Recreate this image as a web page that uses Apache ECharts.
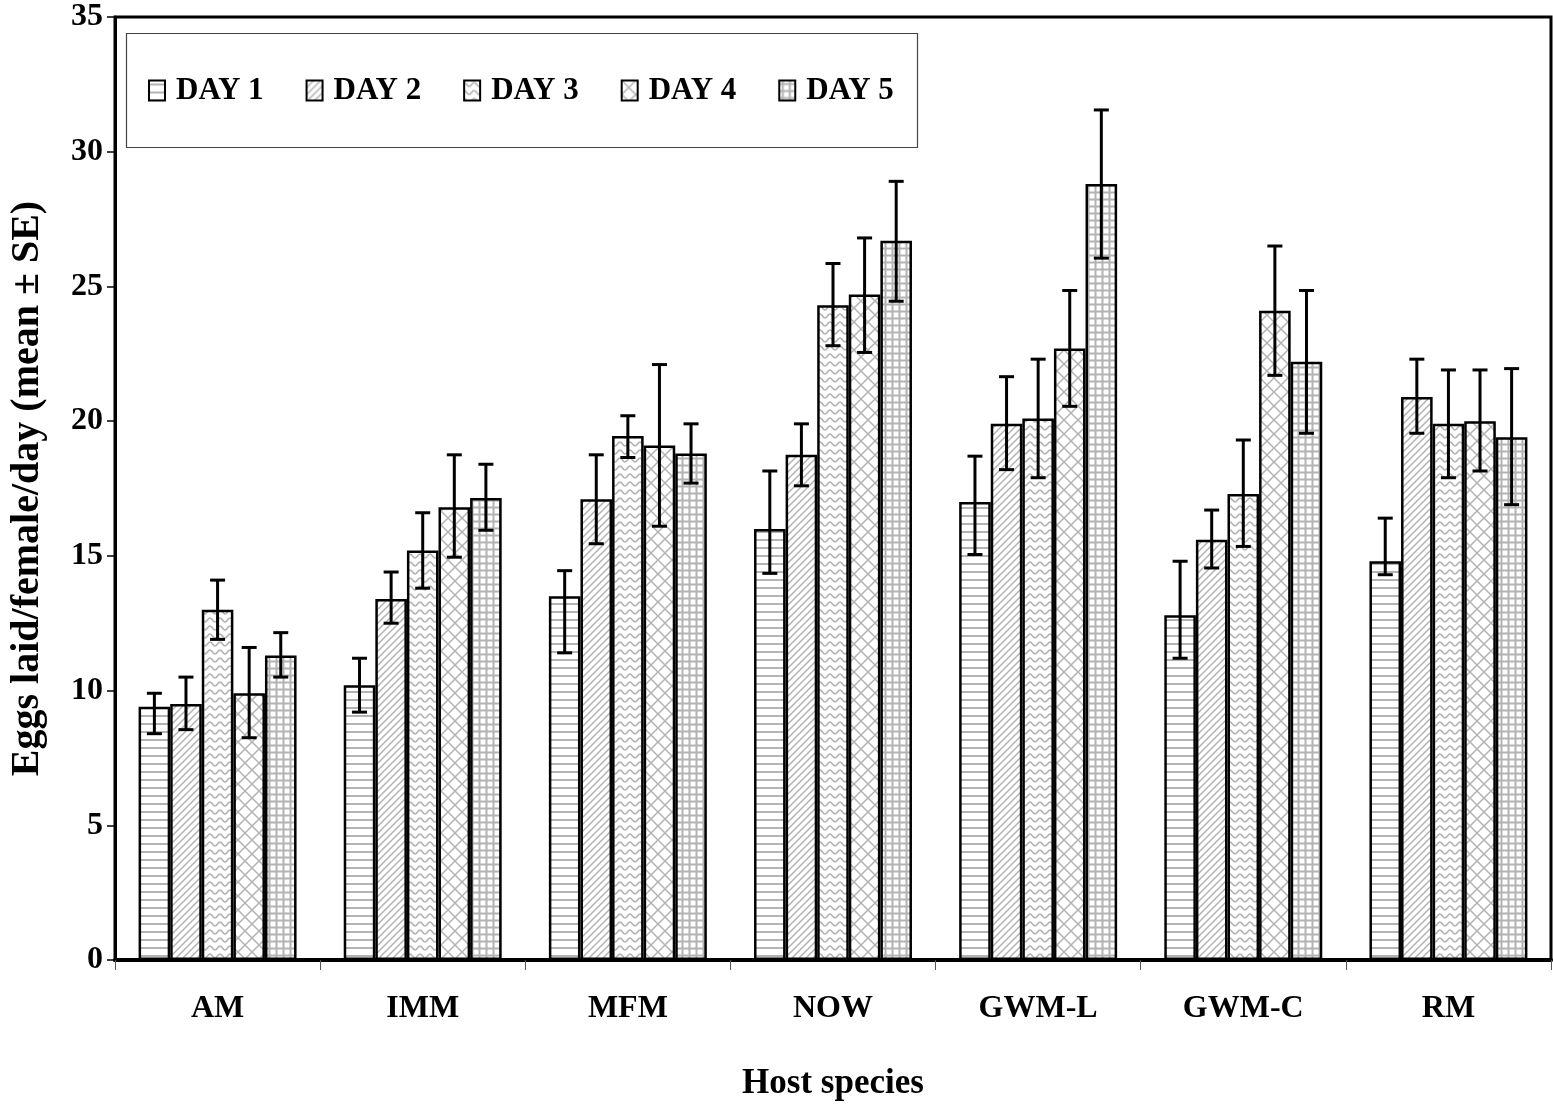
<!DOCTYPE html>
<html>
<head>
<meta charset="utf-8">
<script src="https://cdn.jsdelivr.net/npm/echarts@6/dist/echarts.min.js"></script>
<style>
html,body{margin:0;padding:0;background:#fff;}
#chart{width:1553px;height:1112px;}
</style>
</head>
<body>
<div id="chart"></div>
<script>
const categories = ['AM','IMM','MFM','NOW','GWM-L','GWM-C','RM'];
const seriesNames = ['DAY 1','DAY 2','DAY 3','DAY 4','DAY 5'];
const yTicks = [0,5,10,15,20,25,30,35];

const day1 = [9.4, 10.2, 13.5, 16.0, 17.0, 12.8, 14.8];
const day2 = [9.5, 13.4, 17.1, 18.75, 19.9, 15.6, 20.9];
const day3 = [13.0, 15.2, 19.45, 24.3, 20.1, 17.3, 19.9];
const day4 = [9.9, 16.8, 19.1, 24.7, 22.7, 24.1, 20.0];
const day5 = [11.3, 17.15, 18.8, 26.7, 28.8, 22.2, 19.4];

const day1Hi = [9.9, 11.2, 14.45, 18.15, 18.7, 14.8, 16.4];
const day1Lo = [8.4, 9.2, 11.4, 14.35, 15.05, 11.2, 14.3];
const day2Hi = [10.5, 14.4, 18.75, 19.9, 21.65, 16.7, 22.3];
const day2Lo = [8.55, 12.5, 15.45, 17.6, 18.2, 14.55, 19.55];
const day3Hi = [14.1, 16.6, 20.2, 25.85, 22.3, 19.3, 21.9];
const day3Lo = [11.9, 13.8, 18.65, 22.8, 17.9, 15.35, 17.9];
const day4Hi = [11.6, 18.75, 22.1, 26.8, 24.85, 26.5, 21.9];
const day4Lo = [8.25, 14.95, 16.1, 22.55, 20.55, 21.7, 18.15];
const day5Hi = [12.15, 18.4, 19.9, 28.9, 31.55, 24.85, 21.95];
const day5Lo = [10.5, 15.95, 17.7, 24.45, 26.05, 19.55, 16.9];

const values = [day1, day2, day3, day4, day5];
const highs = [day1Hi, day2Hi, day3Hi, day4Hi, day5Hi];
const lows = [day1Lo, day2Lo, day3Lo, day4Lo, day5Lo];

const FONT = "'Liberation Serif','Times New Roman',serif";
const PAT = '#b3b3b3';

function tile(w, h, draw) {
  const c = document.createElement('canvas');
  c.width = w; c.height = h;
  const g = c.getContext('2d');
  g.fillStyle = '#fff'; g.fillRect(0, 0, w, h);
  g.strokeStyle = PAT;
  draw(g);
  return { image: c, repeat: 'repeat' };
}
const patterns = [
  tile(8, 8, g => { g.lineWidth = 2; g.beginPath(); g.moveTo(0, 4); g.lineTo(8, 4); g.stroke(); }),
  tile(7, 7, g => { g.lineWidth = 1.5; g.beginPath();
    g.moveTo(0, 7); g.lineTo(7, 0); g.moveTo(-1, 1); g.lineTo(1, -1); g.moveTo(6, 8); g.lineTo(8, 6); g.stroke(); }),
  tile(10, 8, g => { g.lineWidth = 1.6; g.beginPath();
    g.moveTo(0, 2); g.bezierCurveTo(2, 2, 3, 6, 5, 6); g.bezierCurveTo(7, 6, 8, 2, 10, 2); g.stroke(); }),
  tile(14, 14, g => { g.lineWidth = 1.5; g.beginPath();
    g.moveTo(0, 0); g.lineTo(14, 14); g.moveTo(0, 14); g.lineTo(14, 0); g.stroke(); }),
  tile(7, 7, g => { g.lineWidth = 2; g.beginPath();
    g.moveTo(0, 3.5); g.lineTo(7, 3.5); g.moveTo(3.5, 0); g.lineTo(3.5, 7); g.stroke(); })
];

const GAP = 0.23;
const barSeries = seriesNames.map((name, i) => ({
  name: name,
  type: 'bar',
  data: values[i],
  barGap: '0%',
  barCategoryGap: (GAP * 100) + '%',
  itemStyle: { color: patterns[i], borderColor: '#000', borderWidth: 2.5 },
  emphasis: { disabled: true },
  z: 2
}));

const errSeries = seriesNames.map((name, i) => ({
  name: 'err' + (i + 1),
  type: 'custom',
  data: categories.map((c, k) => [k, lows[i][k], highs[i][k]]),
  encode: { x: 0, y: [1, 2] },
  z: 5,
  silent: true,
  renderItem: function (params, api) {
    const ci = api.value(0);
    const lo = api.coord([ci, api.value(1)]);
    const hi = api.coord([ci, api.value(2)]);
    const band = api.size([1, 0])[0];
    const grp = band * (1 - GAP);
    const bw = grp / 5;
    const x = lo[0] - grp / 2 + (i + 0.5) * bw;
    const cap = 7.5;
    const st = { stroke: '#000', lineWidth: 3 };
    return {
      type: 'group',
      children: [
        { type: 'line', shape: { x1: x, y1: lo[1], x2: x, y2: hi[1] }, style: st },
        { type: 'line', shape: { x1: x - cap, y1: lo[1], x2: x + cap, y2: lo[1] }, style: st },
        { type: 'line', shape: { x1: x - cap, y1: hi[1], x2: x + cap, y2: hi[1] }, style: st }
      ]
    };
  }
}));

const chart = echarts.init(document.getElementById('chart'), null, { renderer: 'canvas' });
chart.setOption({
  animation: false,
  backgroundColor: '#fff',
  grid: { left: 115, right: 2, top: 17, bottom: 152, show: true, borderColor: '#000', borderWidth: 3,
          backgroundColor: 'transparent', outerBoundsMode: 'none', containLabel: false },
  legend: {
    data: seriesNames,
    left: 148, top: 75, padding: 0,
    itemWidth: 16, itemHeight: 20, itemGap: 42,
    icon: 'rect',
    itemStyle: { borderColor: '#000', borderWidth: 2 },
    textStyle: { fontFamily: FONT, fontWeight: 'bold', fontSize: 31, color: '#000', padding: [0, 0, 0, 6] },
    selectedMode: false
  },
  graphic: [{
    type: 'rect', left: 124, top: 31, z: 0,
    shape: { width: 791, height: 114 },
    style: { fill: 'none', stroke: '#444', lineWidth: 1.2 }
  }],
  xAxis: {
    type: 'category',
    data: categories,
    boundaryGap: true,
    name: 'Host species',
    nameLocation: 'middle',
    nameGap: 106,
    nameTextStyle: { fontFamily: FONT, fontWeight: 'bold', fontSize: 35, color: '#000' },
    axisLine: { lineStyle: { color: '#000', width: 4 } },
    axisTick: { show: true, alignWithLabel: false, length: 10, lineStyle: { color: '#555', width: 1 } },
    axisLabel: { fontFamily: FONT, fontWeight: 'bold', fontSize: 32, color: '#000', margin: 33 },
    splitLine: { show: false }
  },
  yAxis: {
    type: 'value',
    min: yTicks[0], max: yTicks[yTicks.length - 1], interval: 5,
    name: 'Eggs laid/female/day (mean ± SE)',
    nameLocation: 'middle',
    nameGap: 67,
    nameTextStyle: { fontFamily: FONT, fontWeight: 'bold', fontSize: 40, color: '#000' },
    axisLine: { show: true, lineStyle: { color: '#000', width: 3 } },
    axisTick: { show: true, length: 8, lineStyle: { color: '#000', width: 1.5 } },
    axisLabel: { fontFamily: FONT, fontWeight: 'bold', fontSize: 32, color: '#000', margin: 12 },
    splitLine: { show: false }
  },
  series: barSeries.concat(errSeries)
});
</script>
</body>
</html>
